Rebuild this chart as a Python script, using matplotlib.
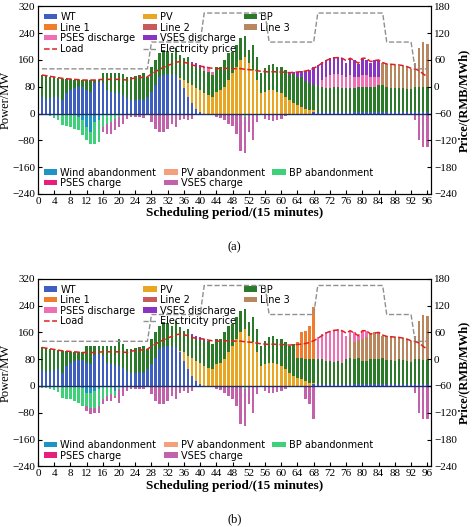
import matplotlib.pyplot as plt
import matplotlib.patches as mpatches
import numpy as np

plt.rcParams['font.family'] = ['DejaVu Sans']

periods = np.arange(1, 97)

def arr(d):
    a = np.zeros(96)
    for k, v in d.items():
        a[k - 1] = v
    return a

wt = np.array([48, 42, 45, 48, 50, 40, 60, 70, 75, 78, 78, 70, 65, 92, 95, 90, 70, 65, 62, 60,
               55, 45, 40, 40, 42, 40, 50, 65, 85, 110, 115, 118, 118, 115, 100, 75, 50, 30, 15, 5]
              + [0] * 27 + [5] * 29, dtype=float)
pv = arr({35: 5, 36: 25, 37: 40, 38: 55, 39: 60, 40: 65, 41: 60, 42: 55, 43: 50, 44: 65, 45: 70,
          46: 80, 47: 100, 48: 120, 49: 140, 50: 160, 51: 170, 52: 150, 53: 130, 54: 100, 55: 60,
          56: 65, 57: 70, 58: 70, 59: 65, 60: 60, 61: 50, 62: 40, 63: 30, 64: 25, 65: 20, 66: 15,
          67: 10, 68: 5})

total_a = np.array([115, 113, 110, 108, 106, 104, 103, 102, 101, 100, 100, 100, 100, 100, 100, 120,
                    120, 120, 120, 120, 118, 110, 110, 112, 115, 120, 110, 140, 160, 180, 190, 188,
                    180, 195, 175, 165, 170, 155, 150, 145, 140, 135, 125, 140, 140, 160, 180, 185,
                    205, 225, 230, 190, 205, 170, 120, 135, 145, 148, 140, 140, 130, 120, 125, 125,
                    128, 128, 130, 140, 145, 155, 160, 165, 168, 168, 165, 150, 165, 160, 148, 165,
                    160, 150, 160, 160, 150, 148, 145, 145, 142, 142, 138, 132, 150, 195, 213, 208],
                   dtype=float)
total_b = total_a.copy()
for k, v in {12: 120, 13: 120, 14: 120, 15: 120, 20: 140, 21: 125, 64: 130, 65: 160, 66: 165,
             67: 180, 68: 235, 74: 170, 81: 165, 82: 155, 85: 150, 86: 148, 87: 147, 88: 146,
             89: 145, 90: 143, 91: 140, 92: 133}.items():
    total_b[k - 1] = v

load = np.array([115, 113, 111, 109, 107, 105, 104, 103, 102, 101, 100, 100, 100, 100, 101, 102,
                 102, 102, 102, 102, 101, 100, 104, 106, 107, 108, 110, 118, 125, 132, 138, 143,
                 148, 153, 155, 153, 150, 145, 142, 141, 140, 137, 135, 134, 134, 135, 135, 134,
                 134, 134, 132, 131, 130, 128, 126, 125, 124, 125, 124, 124, 123, 122, 123, 124,
                 125, 127, 130, 135, 142, 150, 158, 163, 166, 167, 165, 158, 165, 158, 150, 165,
                 165, 155, 158, 160, 152, 148, 147, 146, 145, 143, 140, 135, 133, 128, 118, 110],
                dtype=float)
price = np.array([40] * 27 + [100] * 13 + [165] * 16 + [100] * 12 + [165] * 17 + [100] * 7 + [40] * 4,
                 dtype=float)

# panel (a) upper components
pses_dis_a = arr({41: 8, 42: 10, 43: 10, 70: 20, 71: 35, 72: 40, 73: 40, 74: 40, 75: 40, 76: 35,
                  77: 40, 78: 35, 79: 30, 80: 35, 81: 35, 82: 30, 83: 30, 84: 25})
vses_dis_a = arr({38: 10, 39: 10, 40: 8, 41: 5, 62: 5, 63: 8, 64: 15, 65: 20, 66: 30, 67: 40, 68: 55,
                  69: 62, 70: 55, 71: 50, 72: 50, 73: 50, 74: 50, 75: 50, 76: 40, 77: 50, 78: 50,
                  79: 40, 80: 50, 81: 45, 82: 40, 83: 50, 84: 50})
line1_a = np.zeros(96)
line3_a = arr({85: 65, 86: 70, 87: 70, 88: 70, 89: 65, 90: 65, 91: 65, 92: 60, 93: 70, 94: 115,
               95: 135, 96: 130})

# panel (b) upper components
pses_dis_b = arr({69: 65, 70: 75, 71: 85, 72: 90, 73: 95, 74: 95, 75: 95, 76: 70, 77: 20, 78: 30,
                  79: 10, 80: 25, 81: 20})
vses_dis_b = arr({38: 10, 39: 10, 40: 8, 41: 5})
line1_b = arr({64: 45, 65: 75, 66: 85, 67: 100, 68: 155})
line3_b = arr({77: 60, 78: 50, 79: 55, 80: 65, 81: 70, 82: 75, 83: 80, 84: 78, 85: 65, 86: 70,
               87: 70, 88: 70, 89: 65, 90: 65, 91: 65, 92: 60, 93: 70, 94: 115, 95: 135, 96: 130})

# negative side
vses_ch_common = {28: -25, 29: -45, 30: -55, 31: -55, 32: -45, 33: -30, 34: -40, 35: -20, 36: -15,
                  37: -20, 38: -15, 44: -10, 45: -12, 46: -20, 47: -30, 48: -38, 49: -60, 50: -112,
                  51: -108, 52: -55, 53: -80, 54: -25, 56: -15, 57: -20, 58: -22, 59: -18, 60: -15,
                  61: -8, 93: -20, 94: -80, 95: -100, 96: -100}
wind_ab_a = arr({10: -10, 11: -20, 12: -40, 13: -55, 14: -25, 15: -20})
bp_ab_a = arr({1: -5, 2: -5, 3: -8, 4: -12, 5: -18, 6: -35, 7: -38, 8: -40, 9: -45, 10: -40, 11: -45,
               12: -40, 13: -35, 14: -65, 15: -65, 16: -40, 17: -30, 18: -25, 19: -15, 20: -10, 51: -10})
vses_ch_a = arr({**vses_ch_common, 16: -15, 17: -30, 18: -35, 19: -35, 20: -30, 21: -30, 22: -15,
                 23: -10, 24: -10, 25: -10, 26: -12})
wind_ab_b = arr({11: -5, 12: -20, 13: -20, 14: -15, 15: -10, 19: -15})
bp_ab_b = arr({1: -5, 2: -5, 3: -8, 4: -12, 5: -18, 6: -35, 7: -38, 8: -40, 9: -45, 10: -50, 11: -55,
               12: -40, 13: -45, 14: -50, 15: -50, 16: -40, 17: -30, 18: -25, 19: -15, 20: -10, 51: -10})
vses_ch_b = arr({**vses_ch_common, 12: -15, 13: -20, 14: -15, 15: -20, 16: -15, 17: -15, 18: -20,
                 19: -5, 20: -40, 21: -30, 22: -15, 23: -10, 24: -10, 25: -10, 26: -10,
                 66: -40, 67: -55, 68: -100})

C = {'WT': '#3f5fc0', 'PV': '#e8a623', 'BP': '#2a7a2a', 'Line 1': '#f07d2e', 'Line 2': '#c85a5a',
     'Line 3': '#b8875e', 'PSES discharge': '#f06eb4', 'VSES discharge': '#8a34c4',
     'Wind abandonment': '#1f93c4', 'PV abandonment': '#f4a07c', 'BP abandonment': '#3fd07a',
     'PSES charge': '#e81e7c', 'VSES charge': '#c262aa'}
SERIF = 'Liberation Serif'


def panel(ax, total, pses_dis, vses_dis, line1, line3, wind_ab, bp_ab, vses_ch, tag):
    w = 0.62
    bp = np.clip(total - wt - pv - pses_dis - vses_dis - line1 - line3, 0, None)
    bottom = np.zeros(96)
    pos = {}
    for name, vals in [('WT', wt), ('PV', pv), ('BP', bp), ('Line 1', line1), ('Line 2', np.zeros(96)),
                       ('Line 3', line3), ('PSES discharge', pses_dis), ('VSES discharge', vses_dis)]:
        pos[name] = ax.bar(periods, vals, w, bottom=bottom, color=C[name])
        bottom += vals
    ln_load, = ax.plot(periods, load, '--', color='#e02020', lw=1.1)
    ax2 = ax.twinx()
    ln_price, = ax2.plot(periods, price, '--', color='#909090', lw=1.0)
    ax2.set_ylim(-240, 180)
    ax2.set_yticks(np.arange(-240, 181, 60))
    ax2.set_yticklabels([str(t).replace('-', '\u2212') for t in range(-240, 181, 60)],
                        family=SERIF, fontsize=8)
    ax2.set_ylabel('Price/(RMB/MWh)', family=SERIF, fontsize=9, fontweight='bold', labelpad=1)

    nb = np.zeros(96)
    neg = {}
    for name, vals in [('Wind abandonment', wind_ab), ('PV abandonment', np.zeros(96)),
                       ('BP abandonment', bp_ab), ('PSES charge', np.zeros(96)), ('VSES charge', vses_ch)]:
        neg[name] = ax.bar(periods, vals, w, bottom=nb, color=C[name])
        nb += vals
    ax.axhline(0, color='#203060', lw=1.0)

    ax.set_xlim(0, 97)
    ax.set_ylim(-240, 320)
    ax.set_xticks(np.arange(0, 97, 4))
    ax.set_yticks(np.arange(-240, 321, 80))
    ax.set_yticklabels([str(t).replace('-', '\u2212') for t in range(-240, 321, 80)],
                       family=SERIF, fontsize=8)
    ax.set_xticklabels([str(t) for t in range(0, 97, 4)], family=SERIF, fontsize=8)
    ax.set_ylabel('Power/MW', family=SERIF, fontsize=9, labelpad=0)
    ax.set_xlabel('Scheduling period/(15 minutes)', family=SERIF, fontsize=9.5,
                  fontweight='bold', labelpad=1)
    ax.tick_params(direction='in', length=3, pad=2)
    ax2.tick_params(direction='in', length=3, pad=2)

    blank = mpatches.Patch(visible=False)
    order = [('WT', pos['WT']), ('Line 1', pos['Line 1']), ('PSES discharge', pos['PSES discharge']),
             ('Load', ln_load), ('PV', pos['PV']), ('Line 2', pos['Line 2']),
             ('VSES discharge', pos['VSES discharge']), ('Electricity price', ln_price),
             ('BP', pos['BP']), ('Line 3', pos['Line 3']), ('', blank), ('', blank)]
    kw = dict(ncol=3, fontsize=7, frameon=False, handlelength=1.4, handleheight=0.5,
              labelspacing=0.05, columnspacing=0.8, borderaxespad=0.2, handletextpad=0.3)
    leg1 = ax.legend([h for _, h in order], [n for n, _ in order], loc='upper left', **kw)
    ax.add_artist(leg1)
    nord = ['Wind abandonment', 'PSES charge', 'PV abandonment', 'VSES charge', 'BP abandonment']
    ax.legend([neg[n] for n in nord], nord, loc='lower left', **kw)
    ax.text(0.5, -0.3, tag, transform=ax.transAxes, ha='center', family=SERIF, fontsize=9)


fig = plt.figure(figsize=(4.74, 5.27), dpi=100)
ax_a = fig.add_axes([0.08, 0.632, 0.83, 0.356])
ax_b = fig.add_axes([0.08, 0.115, 0.83, 0.356])
panel(ax_a, total_a, pses_dis_a, vses_dis_a, line1_a, line3_a, wind_ab_a, bp_ab_a, vses_ch_a, '(a)')
panel(ax_b, total_b, pses_dis_b, vses_dis_b, line1_b, line3_b, wind_ab_b, bp_ab_b, vses_ch_b, '(b)')
fig.savefig('out.png', dpi=100)
